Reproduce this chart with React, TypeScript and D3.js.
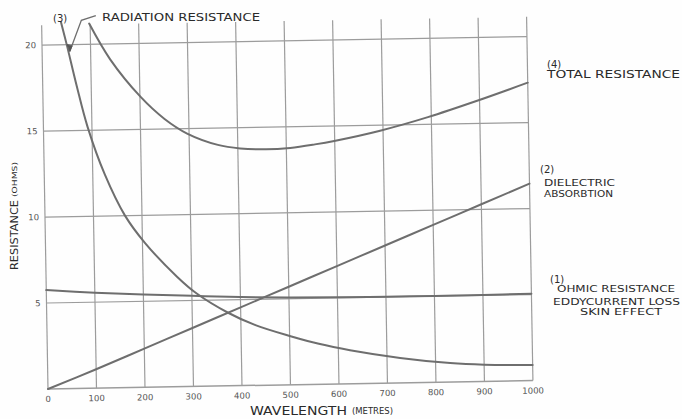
import React from 'react';
import * as d3 from 'd3';

// ---- data ----
const xTicks = [0, 100, 200, 300, 400, 500, 600, 700, 800, 900, 1000];
const yTicks = [5, 10, 15, 20];

// (1) Ohmic resistance / eddy current loss / skin effect
const ohmicX = [0, 100, 200, 300, 400, 500, 600, 700, 800, 900, 1000];
const ohmicY = [5.75, 5.55, 5.4, 5.27, 5.15, 5.08, 5.04, 5.02, 5.02, 5.03, 5.05];

// (2) Dielectric absorption
const dielX = [0, 100, 200, 300, 400, 500, 600, 700, 800, 900, 1000];
const dielY = [0, 1.1, 2.25, 3.4, 4.55, 5.7, 6.85, 8.0, 9.15, 10.3, 11.45];

// (3) Radiation resistance
const radX = [40, 51, 70, 91, 125, 165, 205, 270, 310, 374, 430, 502, 560, 624, 727, 830, 900, 1000];
const radY = [21.3, 20, 17.6, 15.2, 12.4, 10, 8.4, 6.4, 5.4, 4.25, 3.5, 2.82, 2.35, 1.95, 1.45, 1.1, 0.97, 0.9];

// (4) Total resistance
const totX = [98, 140, 201, 250, 296, 359, 405, 458, 508, 559, 599, 694, 793, 895, 1000];
const totY = [21.2, 19.1, 16.9, 15.58, 14.71, 14.02, 13.79, 13.71, 13.77, 13.95, 14.13, 14.68, 15.42, 16.32, 17.32];

// leader for "RADIATION RESISTANCE"
const leaderX = [57, 82, 112];
const leaderY = [19.6, 21.4, 21.65];

const W = 682;
const H = 419;
const GRID = '#9c9c9c';
const CURVE = '#6e6e6e';
const INK = '#2a2a2a';
const FONT = "'DejaVu Sans', 'Liberation Sans', sans-serif";

export default function App() {
  const x = d3.scaleLinear().domain([0, 1000]).range([48, 533]);
  const y = d3.scaleLinear().domain([0, 20]).range([389, 45]);
  const yTop = 21.15;

  const line = d3
    .line<[number, number]>()
    .x((d) => x(d[0]))
    .y((d) => y(d[1]))
    .curve(d3.curveCatmullRom.alpha(0.5));

  const zip = (a: number[], b: number[]) => a.map((v, i) => [v, b[i]] as [number, number]);

  const series = [
    zip(ohmicX, ohmicY),
    zip(dielX, dielY),
    zip(radX, radY),
    zip(totX, totY),
  ];

  const leader = d3
    .line<[number, number]>()
    .x((d) => x(d[0]))
    .y((d) => y(d[1]))(zip(leaderX, leaderY)) as string;

  const tipX = x(leaderX[0]);
  const tipY = y(leaderY[0]);

  return (
    <svg
      width={W}
      height={H}
      viewBox={`0 0 ${W} ${H}`}
      style={{ position: 'absolute', left: 0, top: 0, background: '#fff' }}
      fontFamily={FONT}
    >
      <rect x={0} y={0} width={W} height={H} fill="#fefefe" />
      <g transform={`rotate(-1, ${x(0)}, ${y(0)})`}>
        {/* vertical grid */}
        {xTicks.map((t) => (
          <line
            key={'v' + t}
            x1={x(t)}
            x2={x(t)}
            y1={y(0)}
            y2={y(yTop)}
            stroke={GRID}
            strokeWidth={1.2}
          />
        ))}
        {/* horizontal grid */}
        {[0, ...yTicks].map((t) => (
          <line
            key={'h' + t}
            x1={x(0)}
            x2={x(1000)}
            y1={y(t)}
            y2={y(t)}
            stroke={GRID}
            strokeWidth={t === 0 ? 1.5 : 1.2}
          />
        ))}
        {/* curves */}
        {series.map((s, i) => (
          <path
            key={'s' + i}
            d={line(s) as string}
            fill="none"
            stroke={CURVE}
            strokeWidth={2}
            strokeLinecap="round"
          />
        ))}
        {/* leader */}
        <path d={leader} fill="none" stroke={CURVE} strokeWidth={1.3} />
        <path
          d={`M${tipX},${tipY} l-2.5,-7 l5,1.5 z`}
          fill="#555"
          stroke="#555"
          strokeWidth={0.8}
        />
        {/* x tick labels */}
        {xTicks.map((t) => (
          <text
            key={'xl' + t}
            x={x(t)}
            y={y(0) + 13}
            textAnchor="middle"
            fontSize={8.5}
            fill="#555"
          >
            {t}
          </text>
        ))}
        {/* y tick labels */}
        {yTicks.map((t) => (
          <text
            key={'yl' + t}
            x={x(0) - 6}
            y={y(t) + 3}
            textAnchor="end"
            fontSize={8.5}
            fill="#555"
          >
            {t}
          </text>
        ))}
      </g>

      {/* axis titles */}
      <text x={250} y={415} fontSize={13} fill={INK} textLength={97} lengthAdjust="spacingAndGlyphs">
        WAVELENGTH
      </text>
      <text x={352} y={414} fontSize={8} fill={INK} textLength={41} lengthAdjust="spacingAndGlyphs">
        (METRES)
      </text>
      <g transform="translate(18,270) rotate(-90)">
        <text x={0} y={0} fontSize={11} fill={INK} textLength={70} lengthAdjust="spacingAndGlyphs">
          RESISTANCE
        </text>
        <text x={73} y={-1} fontSize={7} fill={INK} textLength={35} lengthAdjust="spacingAndGlyphs">
          (OHMS)
        </text>
      </g>

      {/* curve labels */}
      <text x={53} y={22} fontSize={10} fill={INK}>(3)</text>
      <text x={102} y={21} fontSize={11} fill={INK} textLength={158} lengthAdjust="spacingAndGlyphs">
        RADIATION RESISTANCE
      </text>

      <text x={547} y={68} fontSize={10} fill={INK}>(4)</text>
      <text x={547} y={78} fontSize={10} fill={INK} textLength={133} lengthAdjust="spacingAndGlyphs">
        TOTAL RESISTANCE
      </text>

      <text x={540} y={173} fontSize={10} fill={INK}>(2)</text>
      <text x={544} y={186} fontSize={9.5} fill={INK} textLength={71} lengthAdjust="spacingAndGlyphs">
        DIELECTRIC
      </text>
      <text x={544} y={197} fontSize={8} fill={INK} textLength={69} lengthAdjust="spacingAndGlyphs">
        ABSORBTION
      </text>

      <text x={550} y={283} fontSize={10} fill={INK}>(1)</text>
      <text x={557} y={292} fontSize={9.5} fill={INK} textLength={118} lengthAdjust="spacingAndGlyphs">
        OHMIC RESISTANCE
      </text>
      <text x={553} y={305} fontSize={9.5} fill={INK} textLength={127} lengthAdjust="spacingAndGlyphs">
        EDDYCURRENT LOSS
      </text>
      <text x={580} y={315} fontSize={9.5} fill={INK} textLength={82} lengthAdjust="spacingAndGlyphs">
        SKIN EFFECT
      </text>
    </svg>
  );
}
